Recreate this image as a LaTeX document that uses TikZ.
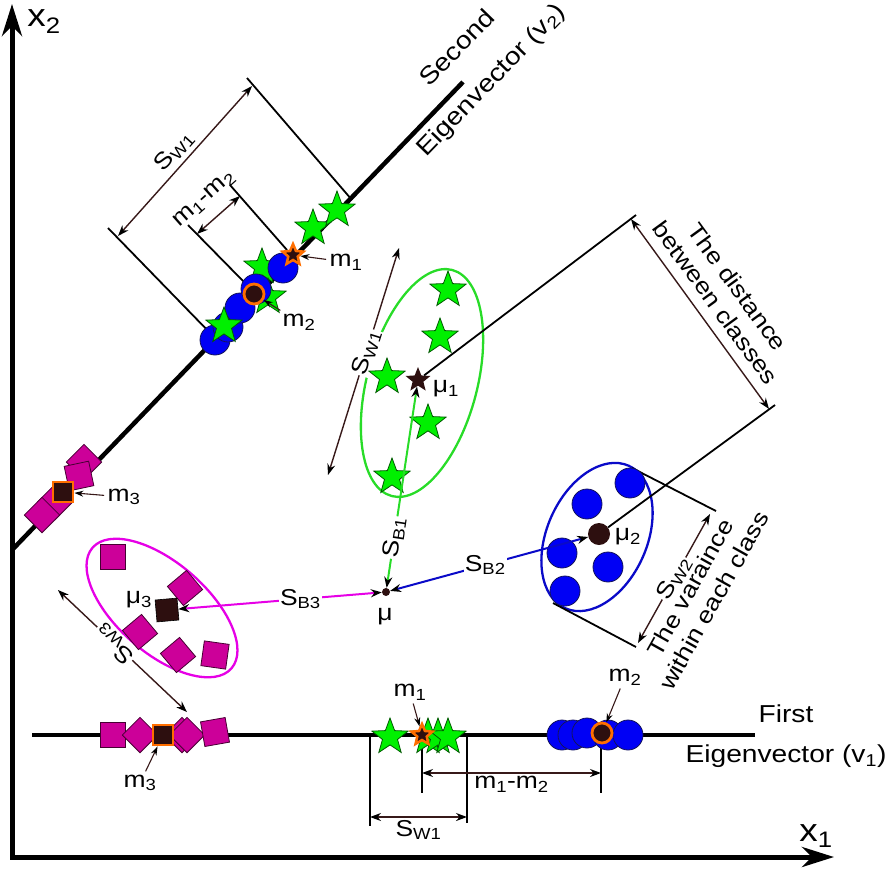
\documentclass[tikz,border=0pt]{standalone}
\usepackage{fontspec}
\setmainfont{Liberation Sans}[FakeStretch=1.15]
\usepackage{tikz}
\usetikzlibrary{arrows.meta,shapes.geometric}

\definecolor{ptgreen}{RGB}{0,240,0}
\definecolor{edgegreen}{RGB}{0,90,0}
\definecolor{ringgreen}{RGB}{40,220,40}
\definecolor{ptblue}{RGB}{0,0,245}
\definecolor{edgeblue}{RGB}{20,20,90}
\definecolor{ringblue}{RGB}{10,10,200}
\definecolor{ptmagenta}{RGB}{204,0,153}
\definecolor{edgemagenta}{RGB}{70,0,50}
\definecolor{ringmagenta}{RGB}{230,0,230}
\definecolor{meanorange}{RGB}{255,110,0}
\definecolor{meandark}{RGB}{45,15,15}
\definecolor{dimbrown}{RGB}{55,25,25}

\tikzset{
  axisline/.style={line width=5pt, {Stealth[length=32pt,width=20pt,inset=10pt]}-{Stealth[length=32pt,width=20pt,inset=10pt]}},
  eigline/.style={line width=4.5pt},
  extline/.style={line width=1.8pt},
  dimline/.style={line width=1.4pt, draw=dimbrown, <->},
  pointer/.style={line width=1.1pt, draw=dimbrown, -{Stealth[length=9pt,width=6pt,color=black]}},
  ring/.style={line width=2.3pt},
  sbline/.style={line width=2pt, <->},
  star1/.style={star, star points=5, star point ratio=2.4, minimum size=38pt, inner sep=0pt, fill=ptgreen, draw=edgegreen, line width=0.8pt},
  ball2/.style={circle, minimum size=30pt, inner sep=0pt, fill=ptblue, draw=edgeblue, line width=0.8pt},
  box3/.style={rectangle, minimum size=25pt, inner sep=0pt, fill=ptmagenta, draw=edgemagenta, line width=0.8pt},
  meanstar/.style={star, star points=5, star point ratio=2.2, minimum size=22pt, inner sep=0pt, fill=meandark, draw=meanorange, line width=2.5pt},
  meanball/.style={circle, minimum size=20pt, inner sep=0pt, fill=meandark, draw=meanorange, line width=2.8pt},
  meanbox/.style={rectangle, minimum size=20pt, inner sep=0pt, fill=meandark, draw=meanorange, line width=2.8pt},
  mustar/.style={star, star points=5, star point ratio=2.3, minimum size=26pt, inner sep=0pt, fill=meandark},
  muball/.style={circle, minimum size=22pt, inner sep=0pt, fill=meandark},
  mubox/.style={rectangle, minimum size=22pt, inner sep=0pt, fill=meandark, draw=black, line width=0.6pt},
  title/.style={font=\fontsize{24.5}{29}\selectfont, align=center},
  axislabel/.style={font=\fontsize{32}{36}\selectfont},
  onlabel/.style={fill=white, inner sep=1pt},
}

\begin{document}
\begin{tikzpicture}[x=1pt, y=-1pt, >={Stealth[length=11pt,width=8pt,color=black]},
  font=\fontsize{23}{27}\selectfont]
\useasboundingbox (0,0) rectangle (890,868);

% axes and eigenvectors
\draw[axisline] (12,4) -- (12,857) -- (834,857);
\node[axislabel] (xtwo) at (44,22) {x\textsubscript{2}};
\node[axislabel] (xone) at (816,836) {x\textsubscript{1}};
\draw[eigline] (12,550) -- (463,82);
\draw[eigline] (32,735) -- (755,735);
\node[title, rotate=46] (vtwo) at (475,65) {Second\\[17pt]Eigenvector (v\textsubscript{2})};
\node[title] (vone) at (786,736) {First\\[11pt]Eigenvector (v\textsubscript{1})};

% class ellipses
\draw[ring, ringgreen, rotate around={75:(422,383)}] (422,383) ellipse [x radius=117, y radius=55];
\draw[ring, ringblue, rotate around={66:(597,537)}] (597,537) ellipse [x radius=78, y radius=50];
\draw[ring, ringmagenta, rotate around={-41:(162,608)}] (162,608) ellipse [x radius=92, y radius=45];

% dimensions on the second eigenvector
\draw[extline] (352,200) -- (247,78);
\draw[extline] (215,338) -- (108,228);
\draw[dimline] (118,236) -- node[sloped, above=1pt] (swup) {S\textsubscript{W1}} (252,86);
\draw[extline] (287,250) -- (230,185);
\draw[extline] (245,283) -- (188,225);
\draw[dimline] (197,234) -- node[sloped, above=9pt] (mdup) {m\textsubscript{1}-m\textsubscript{2}} (240,196);

% dimensions on the first eigenvector
\draw[extline] (370,737) -- (370,826);
\draw[extline] (467,737) -- (467,823);
\draw[dimline] (370,817) -- node[below=-1pt] (swlow) {S\textsubscript{W1}} (467,817);
\draw[extline] (422,740) -- (422,793);
\draw[extline] (601,740) -- (601,793);
\draw[dimline] (422,773) -- node[below=-1pt] (mdlow) {m\textsubscript{1}-m\textsubscript{2}} (601,773);

% spread of the classes
\draw[dimline] (328,475) -- node[sloped, pos=0.54, onlabel] (swone) {S\textsubscript{W1}} (399,248);
\draw[dimline] (187,712) -- node[sloped, allow upside down, pos=0.56, onlabel] (swthree) {S\textsubscript{W3}} (58,590);
\draw[extline] (632,468) -- (716,511);
\draw[extline] (553,603) -- (636,647);
\draw[dimline] (638,643) -- node[sloped, onlabel] (swtwo) {S\textsubscript{W2}}
  node[sloped, below=6pt, align=center] (varlbl) {The varaince\\within each class} (710,514);

% projected samples on v2
\foreach \x/\y [count=\i] in {262/267, 268/297}
  \node[star1] (hstar\i) at (\x,\y) {};
\foreach \x/\y [count=\i] in {215/340, 228/327, 240/308, 256/289, 283/268}
  \node[ball2] (vball\i) at (\x,\y) {};
\foreach \x/\y [count=\i] in {224/326, 313/228, 337/210}
  \node[star1] (vstar\i) at (\x,\y) {};
\foreach \x/\y/\a [count=\i] in {84/462/45, 79/476/12, 55/502/45, 42/515/45}
  \node[box3, rotate=\a] (vbox\i) at (\x,\y) {};
\node[meanstar] (mone) at (293,255) {};
\node[meanball] (mtwo) at (254,294) {};
\node[meanbox] (mthree) at (63,492) {};

% the three classes
\foreach \x/\y [count=\i] in {448/290, 440/337, 387/377, 428/423, 392/477}
  \node[star1] (cstar\i) at (\x,\y) {};
\foreach \x/\y [count=\i] in {630/483, 587/504, 562/553, 608/567, 565/591}
  \node[ball2] (cball\i) at (\x,\y) {};
\foreach \x/\y/\a [count=\i] in {113/557/0, 185/588/40, 140/632/40, 178/655/40, 215/655/-8}
  \node[box3, rotate=\a] (cbox\i) at (\x,\y) {};
\node[mustar] (muone) at (418,380) {};
\node[muball] (mutwo) at (599,534) {};
\node[mubox, rotate=5] (muthree) at (167,610) {};
\node[circle, fill=meandark, minimum size=8pt, inner sep=0pt] (mu) at (386,592) {};

% projected samples on v1
\foreach \x/\y [count=\i] in {390/737, 428/737, 438/737, 448/737}
  \node[star1] (hstar\i) at (\x,\y) {};
\foreach \x/\y [count=\i] in {562/735, 573/735, 587/733, 608/735, 628/735}
  \node[ball2] (hball\i) at (\x,\y) {};
\foreach \x/\y/\a [count=\i] in {113/735/0, 140/735/45, 182/735/45, 187/735/45, 215/732/10}
  \node[box3, rotate=\a] (hbox\i) at (\x,\y) {};
\node[meanstar] (monelow) at (422,735) {};
\node[meanball] (mtwolow) at (602,733) {};
\node[meanbox] (mthreelow) at (163,735) {};

% distance between classes
\coordinate (dtop) at (636,215);
\coordinate (dbot) at (775,405);
\draw[extline] (muone) -- (dtop);
\draw[extline] (mutwo) -- (dbot);
\draw[dimline] (631,219) -- node[sloped, above=7pt, align=center] (distlbl) {The distance\\between classes} (769,409);

% between-class scatter
\draw[sbline, draw=ringgreen] (mu) -- node[sloped, pos=0.25, onlabel] (sbone) {S\textsubscript{B1}} (muone);
\draw[sbline, draw=ringblue] (mu) -- node[pos=0.48, onlabel] (sbtwo) {S\textsubscript{B2}} (mutwo);
\draw[sbline, draw=ringmagenta] (mu) -- node[pos=0.4, onlabel] (sbthree) {S\textsubscript{B3}} (muthree);

% labels
\node (muonelbl) at (446,389) {μ\textsubscript{1}};
\node (mutwolbl) at (628,537) {μ\textsubscript{2}};
\node (muthreelbl) at (139,600) {μ\textsubscript{3}};
\node (mulbl) at (385,617) {μ};
\node (monelbl) at (346,262) {m\textsubscript{1}};
\node (mtwolbl) at (299,322) {m\textsubscript{2}};
\node (mthreelbl) at (124,497) {m\textsubscript{3}};
\node (monelowlbl) at (410,692) {m\textsubscript{1}};
\node (mtwolowlbl) at (625,677) {m\textsubscript{2}};
\node (mthreelowlbl) at (140,783) {m\textsubscript{3}};
\draw[pointer] (monelbl) -- (mone);
\draw[pointer] (mtwolbl) -- (mtwo);
\draw[pointer] (mthreelbl) -- (mthree);
\draw[pointer] (monelowlbl) -- (monelow);
\draw[pointer] (mtwolowlbl) -- (mtwolow);
\draw[pointer] (mthreelowlbl) -- (mthreelow);
\end{tikzpicture}
\end{document}
